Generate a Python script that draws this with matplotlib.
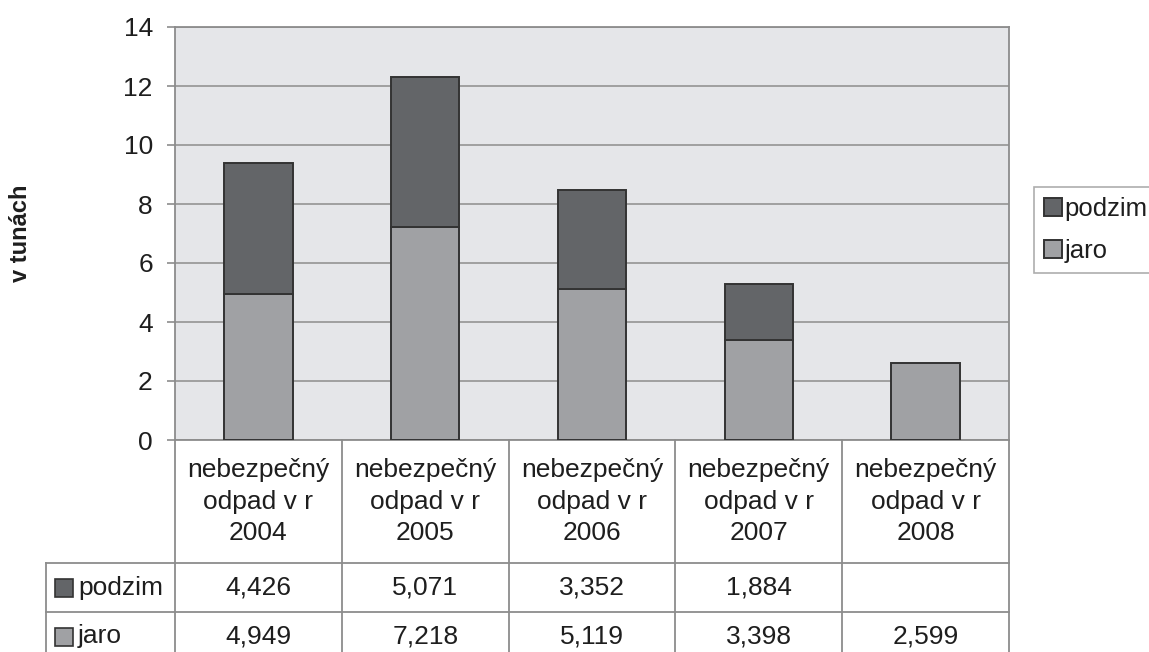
import numpy as np
import matplotlib.pyplot as plt
from matplotlib import transforms
from matplotlib.patches import Rectangle

plt.rcParams['font.family'] = ['Liberation Sans', 'DejaVu Sans']

categories = ["nebezpečný\nodpad v r\n2004", "nebezpečný\nodpad v r\n2005",
              "nebezpečný\nodpad v r\n2006", "nebezpečný\nodpad v r\n2007",
              "nebezpečný\nodpad v r\n2008"]
jaro = [4.949, 7.218, 5.119, 3.398, 2.599]
podzim = [4.426, 5.071, 3.352, 1.884, np.nan]
series_names = ["podzim", "jaro"]
yticks = [0, 2, 4, 6, 8, 10, 12, 14]

c_podzim = '#636568'
c_jaro = '#a0a1a4'
c_edge = '#333333'
c_line = '#8c8c8c'
c_text = '#1e1e1e'
FS = 19

W, H = 1149, 652
fig = plt.figure(figsize=(W / 100, H / 100), dpi=100)
ax_l, ax_r, ax_t, ax_b = 175, 1009, 27, 440
ax = fig.add_axes([ax_l / W, 1 - ax_b / H, (ax_r - ax_l) / W, (ax_b - ax_t) / H])
ax.set_facecolor('#e5e6e9')

x = np.arange(len(categories))
jaro = np.array(jaro)
podzim = np.array(podzim)
ax.bar(x, jaro, width=0.41, color=c_jaro, edgecolor=c_edge, linewidth=1.4,
       label='jaro', zorder=3)
ok = ~np.isnan(podzim)
ax.bar(x[ok], podzim[ok], bottom=jaro[ok], width=0.41, color=c_podzim,
       edgecolor=c_edge, linewidth=1.4, label='podzim', zorder=3)

ax.set_xlim(-0.5, len(categories) - 0.5)
ax.set_ylim(0, 14)
ax.set_yticks(yticks)
ax.set_yticklabels([str(v) for v in yticks], fontsize=FS, color=c_text)
ax.set_xticks([])
ax.yaxis.grid(True, color='#9a9a9a', linewidth=1.3, zorder=0)
ax.tick_params(axis='y', length=6, width=1.2, color=c_line, pad=10)
for s in ax.spines.values():
    s.set_color(c_line)
    s.set_linewidth(1.3)

fig.text(21 / W, 1 - (ax_t + ax_b) / 2 / H, 'v tunách', rotation=90,
         ha='center', va='center', fontsize=17, fontweight='bold', color=c_text)

# data table under the chart
def px2x(px):
    return -0.5 + (px - ax_l) * len(categories) / (ax_r - ax_l)

def px2y(py):
    return -(py - ax_b) / (ax_b - ax_t)

tr = transforms.blended_transform_factory(ax.transData, ax.transAxes)
y_hdr = px2y(563)
y_r1 = px2y(612)
y_r2 = px2y(661)
x_left = px2x(46)
kw = dict(transform=tr, clip_on=False, color=c_line, linewidth=1.3)

for i in range(len(categories) + 1):
    ax.plot([i - 0.5, i - 0.5], [0, y_r2], **kw)
ax.plot([x_left, x_left], [y_hdr, y_r2], **kw)
for yy in (y_hdr, y_r1):
    ax.plot([x_left, len(categories) - 0.5], [yy, yy], **kw)

for i, c in enumerate(categories):
    ax.text(i, y_hdr / 2, c, transform=tr, ha='center', va='center',
            fontsize=FS, color=c_text, linespacing=1.4)

rows = [(podzim, c_podzim, (y_hdr + y_r1) / 2),
        (jaro, c_jaro, (y_r1 + y_r2) / 2)]
for name, (vals, col, yc) in zip(series_names, rows):
    sq_h = 18 / (ax_b - ax_t)
    ax.add_patch(Rectangle((px2x(55), yc - sq_h / 2), px2x(73) - px2x(55), sq_h,
                           transform=tr, clip_on=False, facecolor=col,
                           edgecolor=c_edge, linewidth=1.2))
    ax.text(px2x(78), yc, name, transform=tr, ha='left', va='center',
            fontsize=FS, color=c_text)
    for i, v in enumerate(vals):
        if np.isnan(v):
            continue
        ax.text(i, yc, f"{v:.3f}".replace('.', ','), transform=tr,
                ha='center', va='center', fontsize=FS, color=c_text)

h, l = ax.get_legend_handles_labels()
leg = fig.legend(h[::-1], l[::-1], loc='upper left',
                 bbox_to_anchor=(1034 / W, 1 - 187 / H), fontsize=18.5,
                 frameon=True, fancybox=False, edgecolor='#999999',
                 handlelength=0.7, handleheight=0.7, handletextpad=0.1,
                 borderpad=0.38, labelspacing=0.7, borderaxespad=0)
leg.get_frame().set_linewidth(1.2)
for t in leg.get_texts():
    t.set_color(c_text)

fig.savefig('out.png', dpi=100)
